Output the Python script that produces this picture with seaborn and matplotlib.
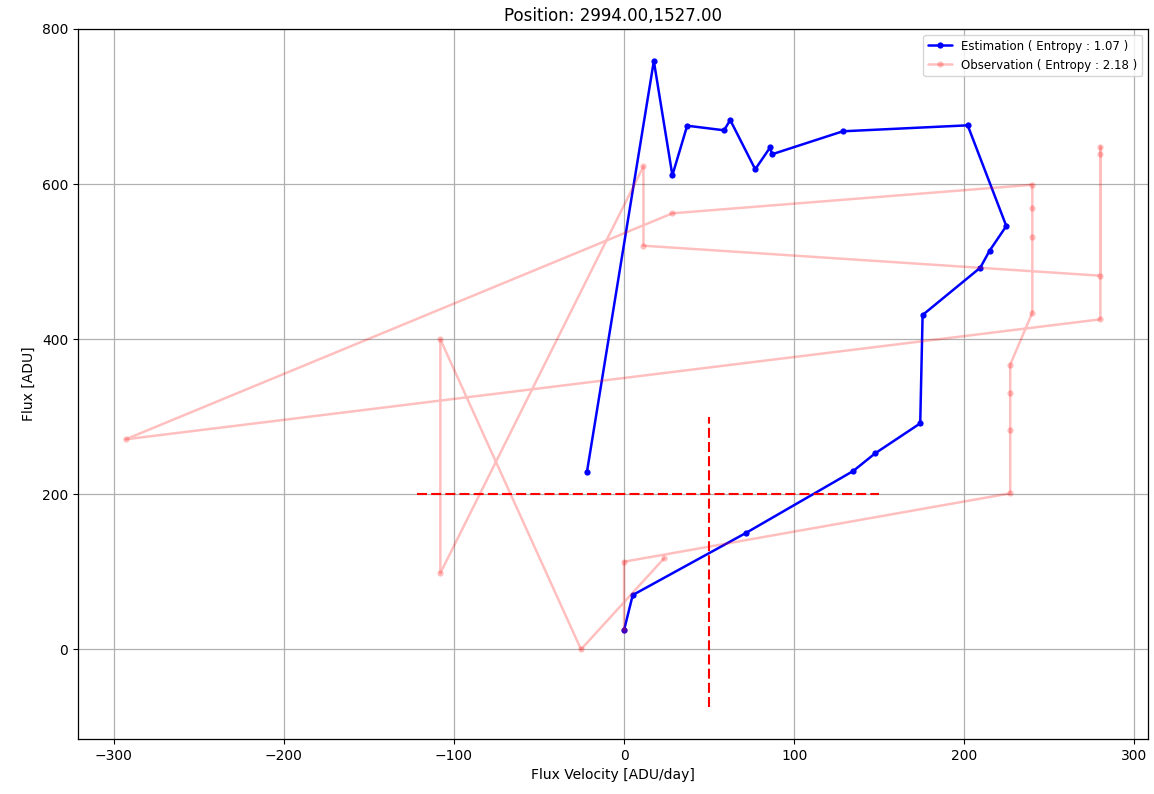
import matplotlib
matplotlib.use("Agg")
import matplotlib.pyplot as plt
import seaborn as sns
import pandas as pd

# Estimation path (blue)
est_x = [0, 5.1, 71.8, 134.7, 147.6, 174.1, 175.5, 209.4, 214.9, 224.7, 202.0,
         128.6, 86.9, 85.9, 77.1, 62.4, 58.8, 37.1, 28.4, 17.5, -21.8]
est_y = [24.5, 69.7, 150, 229.7, 252.5, 291.2, 431, 492, 514, 545.8, 675.7,
         668, 638.3, 647.3, 619, 682.6, 669.3, 675.2, 611.2, 758.7, 228.8]

# Observation path (light red)
obs_x = [0, 0, 227, 227, 227, 227, 240, 240, 240, 240, 28.4, -293, 280, 280, 280,
         280, 11.4, 11.4, -108, -108, -25.3, 23.5]
obs_y = [24.5, 112.7, 200.9, 282, 330, 366.9, 434, 532, 569.4, 599, 562.2, 270.6,
         425.4, 648, 639, 481.7, 520.4, 622.8, 98, 399.6, -0.4, 117]

est_label = "Estimation ( Entropy : 1.07 )"
obs_label = "Observation ( Entropy : 2.18 )"
title = "Position: 2994.00,1527.00"

# crosshair extents
hline_y = 200
hline_x = [-122, 150]
vline_x = 50
vline_y = [-75, 300]

sns.set_style("white")
plt.rcParams['font.family'] = ['DejaVu Sans']
plt.rcParams['text.color'] = 'black'
plt.rcParams['axes.labelcolor'] = 'black'
plt.rcParams['xtick.color'] = 'black'
plt.rcParams['ytick.color'] = 'black'

fig = plt.figure(figsize=(11.54, 7.94), dpi=100)
ax = fig.add_axes([0.0676, 0.0693, 0.9272, 0.8942])

est_df = pd.DataFrame({"x": est_x, "y": est_y})
obs_df = pd.DataFrame({"x": obs_x, "y": obs_y})

sns.lineplot(data=est_df, x="x", y="y", sort=False, estimator=None, ax=ax,
             color="blue", linewidth=1.8, marker="o", markersize=4.5,
             markeredgewidth=0, label=est_label)
sns.lineplot(data=obs_df, x="x", y="y", sort=False, estimator=None, ax=ax,
             color="red", alpha=0.25, linewidth=1.8, marker="o", markersize=4.5,
             markeredgewidth=0, label=obs_label)

ax.plot(hline_x, [hline_y, hline_y], color="red", linestyle="--", linewidth=1.5,
        dashes=(4.8, 2.0))
ax.plot([vline_x, vline_x], vline_y, color="red", linestyle="--", linewidth=1.5,
        dashes=(4.8, 2.0))

ax.set_xlim(-321, 308)
ax.set_ylim(-116, 800)
ax.set_xticks([-300, -200, -100, 0, 100, 200, 300])
ax.set_yticks([0, 200, 400, 600, 800])
ax.grid(True, color="#b0b0b0", linewidth=0.9)
for s in ax.spines.values():
    s.set_visible(True)
    s.set_color("black")
    s.set_linewidth(0.9)
ax.tick_params(axis="both", labelsize=10, length=3.5, width=0.8, direction="out",
               bottom=True, left=True, colors="black")

ax.set_title(title, fontsize=12, color="black")
ax.set_xlabel("Flux Velocity [ADU/day]", fontsize=10)
ax.set_ylabel("Flux [ADU]", fontsize=10)

leg = ax.legend(loc="upper right", fontsize=8.5, frameon=True)
for t in leg.get_texts():
    t.set_color("black")
for h in leg.get_lines():
    h.set_markersize(4.5)

fig.savefig("out.png", dpi=100)
